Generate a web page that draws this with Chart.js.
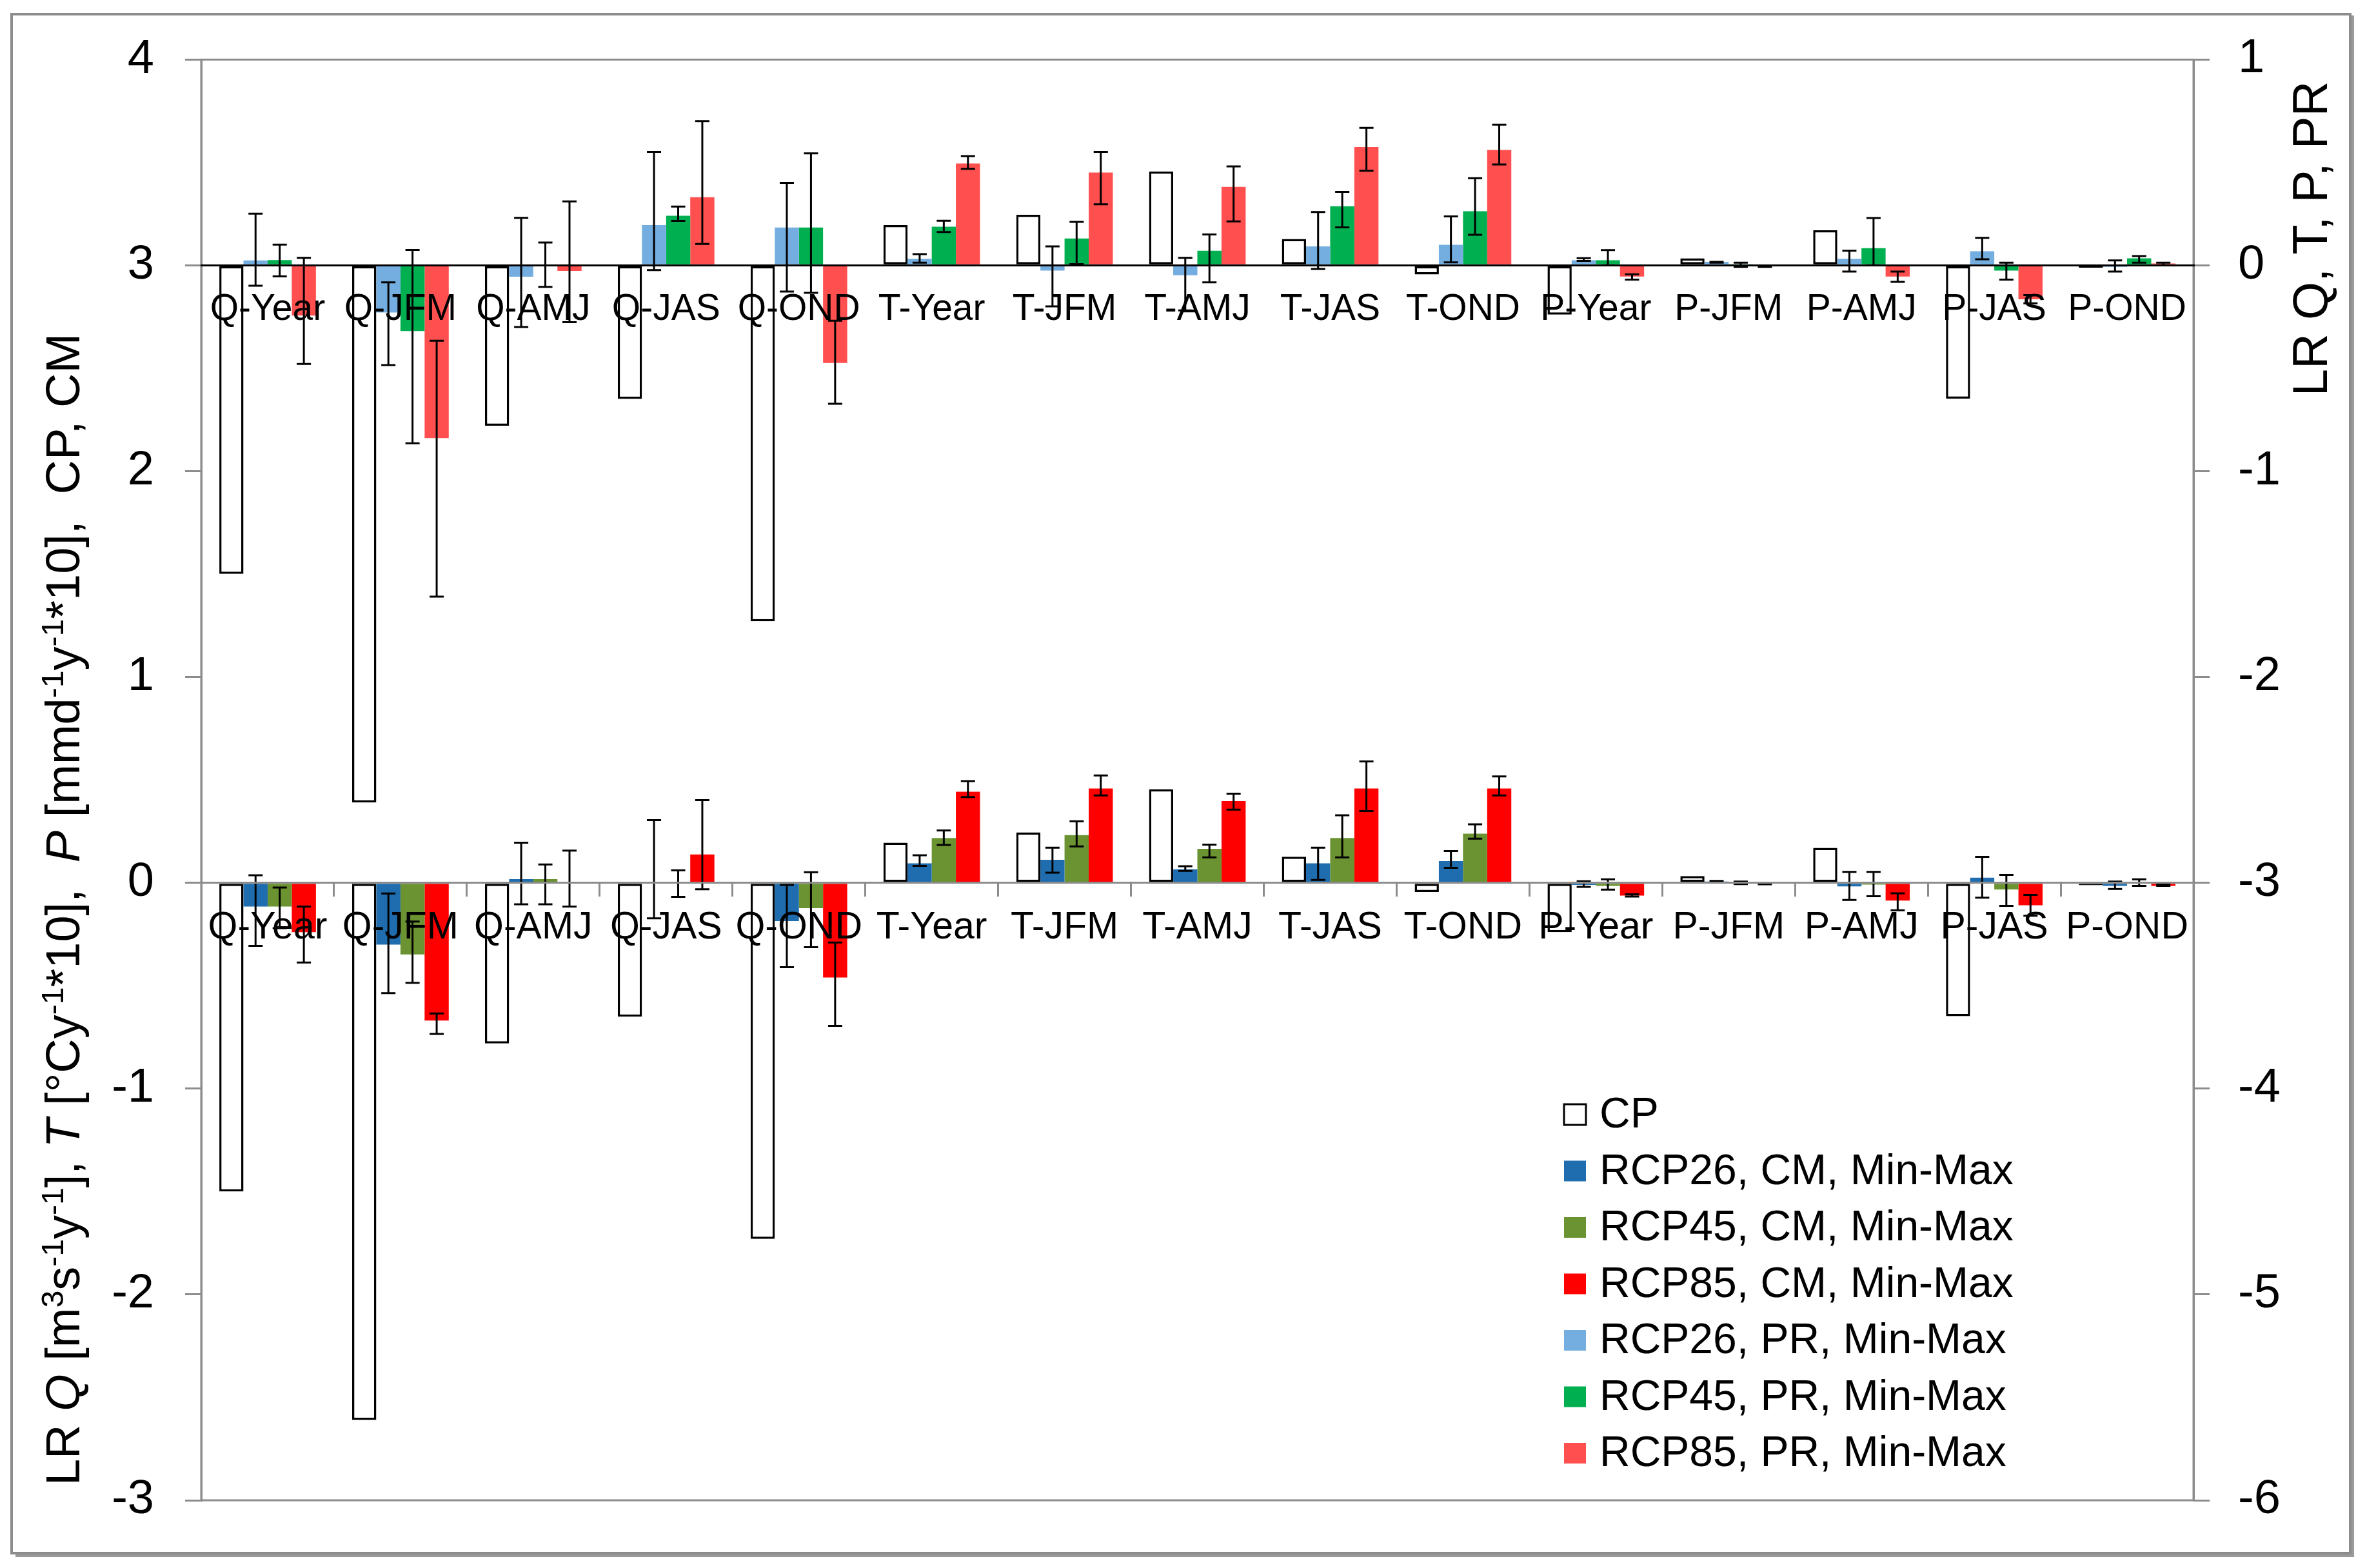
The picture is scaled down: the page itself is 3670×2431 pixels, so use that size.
<!DOCTYPE html>
<html lang="en">
<head>
<meta charset="UTF-8">
<title>LR Q, T, P</title>
<script src="https://cdn.jsdelivr.net/npm/chart.js"></script>
<style>
    * { margin: 0; padding: 0; }
    body { background: #ffffff; overflow: hidden; }
    .wrap { position: relative; width: 3670px; height: 2431px; }
    canvas { position: absolute; left: 0; top: 0; display: block; }
</style>
</head>
<body>
<div class="wrap">
    <canvas id="cmChart" width="3670" height="2431"></canvas>
    <canvas id="prChart" width="3670" height="2431"></canvas>
</div>
<script>
// ---- data ----
const categories = ['Q-Year', 'Q-JFM', 'Q-AMJ', 'Q-JAS', 'Q-OND',
                    'T-Year', 'T-JFM', 'T-AMJ', 'T-JAS', 'T-OND',
                    'P-Year', 'P-JFM', 'P-AMJ', 'P-JAS', 'P-OND'];

// CP (drawn on both axes)
const cp = [-1.5, -2.61, -0.78, -0.65, -1.73, 0.195, 0.245, 0.455, 0.127, -0.045, -0.24, 0.033, 0.17, -0.648, -0.012];

// CM series, left axis
const rcp26cm    = [-0.115, -0.30, 0.018, 0.003, -0.186, 0.095, 0.112, 0.066, 0.095, 0.106, -0.01, 0.006, -0.017, 0.025, -0.015];
const rcp26cmMin = [-0.306, -0.536, -0.104, -0.172, -0.41, 0.082, 0.049, 0.058, 0.014, 0.073, -0.02, 0.004, -0.083, -0.072, -0.03];
const rcp26cmMax = [0.037, -0.052, 0.195, 0.305, -0.01, 0.134, 0.171, 0.081, 0.171, 0.154, 0.008, 0.009, 0.053, 0.126, 0.006];

const rcp45cm    = [-0.115, -0.348, 0.018, -0.005, -0.123, 0.218, 0.232, 0.165, 0.218, 0.239, -0.015, 0.0, -0.009, -0.032, -0.005];
const rcp45cmMin = [-0.22, -0.486, -0.104, -0.068, -0.313, 0.184, 0.177, 0.124, 0.124, 0.215, -0.033, -0.006, -0.065, -0.112, -0.015];
const rcp45cmMax = [-0.023, -0.188, 0.089, 0.061, 0.052, 0.255, 0.299, 0.186, 0.328, 0.284, 0.017, 0.006, 0.053, 0.038, 0.017];

const rcp85cm    = [-0.24, -0.669, 0.0, 0.138, -0.46, 0.443, 0.458, 0.397, 0.458, 0.458, -0.062, -0.005, -0.086, -0.109, -0.015];
const rcp85cmMin = [-0.387, -0.734, -0.115, -0.031, -0.695, 0.417, 0.425, 0.356, 0.349, 0.425, -0.067, -0.007, -0.133, -0.16, -0.015];
const rcp85cmMax = [-0.115, -0.635, 0.157, 0.402, -0.29, 0.494, 0.522, 0.433, 0.59, 0.517, -0.056, -0.003, -0.051, -0.059, -0.006];

// PR series, right axis
const rcp26pr    = [0.023, -0.23, -0.056, 0.195, 0.183, 0.031, -0.026, -0.049, 0.091, 0.099, 0.024, 0.016, 0.031, 0.068, -0.008];
const rcp26prMin = [-0.10, -0.485, -0.30, -0.024, -0.128, 0.012, -0.2, -0.22, -0.018, 0.014, 0.021, 0.012, -0.031, 0.029, -0.031];
const rcp26prMax = [0.25, -0.083, 0.23, 0.55, 0.40, 0.054, 0.091, 0.036, 0.258, 0.237, 0.034, 0.016, 0.07, 0.133, 0.023];

const rcp45pr    = [0.025, -0.32, 0.0, 0.24, 0.183, 0.187, 0.13, 0.07, 0.286, 0.262, 0.024, 0.005, 0.083, -0.026, 0.033];
const rcp45prMin = [-0.054, -0.865, -0.105, 0.215, -0.134, 0.161, 0.005, -0.083, 0.184, 0.148, 0.0, -0.008, 0.0, -0.07, 0.012];
const rcp45prMax = [0.10, 0.074, 0.11, 0.285, 0.543, 0.216, 0.21, 0.149, 0.356, 0.423, 0.073, 0.012, 0.229, 0.012, 0.044];

const rcp85pr    = [-0.245, -0.84, -0.028, 0.33, -0.475, 0.494, 0.45, 0.38, 0.574, 0.56, -0.055, -0.005, -0.055, -0.166, 0.008];
const rcp85prMin = [-0.48, -1.61, -0.277, 0.103, -0.673, 0.468, 0.296, 0.213, 0.459, 0.489, -0.07, -0.008, -0.081, -0.185, 0.0];
const rcp85prMax = [0.036, -0.367, 0.31, 0.70, -0.27, 0.53, 0.55, 0.48, 0.667, 0.683, -0.044, -0.003, -0.031, -0.145, 0.012];

const legendNames = ['CP', 'RCP26, CM, Min-Max', 'RCP45, CM, Min-Max', 'RCP85, CM, Min-Max',
                     'RCP26, PR, Min-Max', 'RCP45, PR, Min-Max', 'RCP85, PR, Min-Max'];
const legendColors = ['#ffffff', '#1f6dae', '#6b9331', '#ff0000', '#74aee0', '#00b050', '#ff4f4f'];

const FONT = "'Liberation Sans', Arial, sans-serif";
const AXIS_GREY = '#8c8c8c';

function barSet(label, data, color, lo, hi) {
    return {
        label: label,
        data: data,
        categoryPercentage: 4 / 5.5,
        barPercentage: 1.0,
        backgroundColor: color,
        borderWidth: 0,
        errLow: lo,
        errHigh: hi
    };
}

function cpSet() {
    return {
        label: 'CP',
        data: cp,
        categoryPercentage: 4 / 5.5,
        barPercentage: 1.0,
        backgroundColor: '#ffffff',
        borderColor: '#000000',
        borderWidth: 3.5,
        borderSkipped: false
    };
}

// white page, outer frame and plot-area box
const framePlugin = {
    id: 'frame',
    beforeDraw(chart) {
        const ctx = chart.ctx;
        const a = chart.chartArea;
        ctx.save();
        ctx.fillStyle = '#ffffff';
        ctx.fillRect(0, 0, chart.width, chart.height);
        ctx.fillStyle = '#9a9a9a';
        ctx.fillRect(3642, 24, 8, 2390);
        ctx.fillRect(24, 2406, 3626, 8);
        ctx.strokeStyle = AXIS_GREY;
        ctx.lineWidth = 4;
        ctx.strokeRect(18, 22, 3626, 2386);
        ctx.lineWidth = 3;
        ctx.strokeRect(a.left, a.top, a.right - a.left, a.bottom - a.top);
        ctx.restore();
    }
};

// min-max whiskers from each dataset's errLow / errHigh
const errorBarPlugin = {
    id: 'errorBars',
    afterDatasetsDraw(chart) {
        const ctx = chart.ctx;
        const scale = chart.scales.y;
        ctx.save();
        ctx.strokeStyle = '#000000';
        ctx.lineWidth = 3;
        chart.data.datasets.forEach((ds, di) => {
            if (!ds.errLow) return;
            chart.getDatasetMeta(di).data.forEach((bar, i) => {
                const yLo = scale.getPixelForValue(ds.errLow[i]);
                const yHi = scale.getPixelForValue(ds.errHigh[i]);
                ctx.beginPath();
                ctx.moveTo(bar.x, yLo);
                ctx.lineTo(bar.x, yHi);
                ctx.moveTo(bar.x - 11, yLo);
                ctx.lineTo(bar.x + 11, yLo);
                ctx.moveTo(bar.x - 11, yHi);
                ctx.lineTo(bar.x + 11, yHi);
                ctx.stroke();
            });
        });
        ctx.restore();
    }
};

// rotated title made of normal / italic / superscript pieces
function drawRotatedTitle(ctx, parts, baseX, centerY, size) {
    const fontFor = (p, s) => (p.s === 'i' ? 'italic ' : '') + (p.s === 'sup' ? s * 0.65 : s) + 'px ' + FONT;
    const total = parts.reduce((w, p) => { ctx.font = fontFor(p, size); return w + ctx.measureText(p.t).width; }, 0);
    ctx.save();
    ctx.translate(baseX, centerY);
    ctx.rotate(-Math.PI / 2);
    ctx.fillStyle = '#000000';
    ctx.textBaseline = 'alphabetic';
    let x = -total / 2;
    parts.forEach(p => {
        ctx.font = fontFor(p, size);
        ctx.fillText(p.t, x, p.s === 'sup' ? -size * 0.34 : 0);
        x += ctx.measureText(p.t).width;
    });
    ctx.restore();
}

const leftTitle = [
    {t: 'LR ', s: 'n'}, {t: 'Q', s: 'i'}, {t: ' [m', s: 'n'}, {t: '3', s: 'sup'}, {t: 's', s: 'n'},
    {t: '-1', s: 'sup'}, {t: 'y', s: 'n'}, {t: '-1', s: 'sup'}, {t: '], ', s: 'n'}, {t: 'T', s: 'i'},
    {t: ' [°Cy', s: 'n'}, {t: '-1', s: 'sup'}, {t: '*10],  ', s: 'n'}, {t: 'P', s: 'i'},
    {t: ' [mmd', s: 'n'}, {t: '-1', s: 'sup'}, {t: 'y', s: 'n'}, {t: '-1', s: 'sup'},
    {t: '*10],  CP, CM', s: 'n'}
];

const titlesPlugin = {
    id: 'titles',
    afterDraw(chart) {
        const ctx = chart.ctx;
        drawRotatedTitle(ctx, leftTitle, 123, 1410, 74);
        drawRotatedTitle(ctx, [{t: 'LR Q, T, P, PR', s: 'n'}], 3608, 370, 76);
    }
};

const legendPlugin = {
    id: 'boxLegend',
    afterDraw(chart) {
        const ctx = chart.ctx;
        ctx.save();
        ctx.font = '66px ' + FONT;
        ctx.textBaseline = 'middle';
        legendNames.forEach((name, i) => {
            const y = 1728 + i * 87.5;
            ctx.fillStyle = legendColors[i];
            ctx.fillRect(2425, y - 16, 34, 32);
            if (i === 0) {
                ctx.strokeStyle = '#000000';
                ctx.lineWidth = 3;
                ctx.strokeRect(2425, y - 16, 34, 32);
            }
            ctx.fillStyle = '#000000';
            ctx.fillText(name, 2480, y + 2);
        });
        ctx.restore();
    }
};

// category axis sitting on the zero line; labels and line drawn above the bars
function categoryAxis(fontSize, padding, tickLength, borderColor) {
    return {
        type: 'category',
        position: { y: 0 },
        offset: true,
        grid: { offset: true, drawOnChartArea: false, drawTicks: tickLength > 0, tickLength: tickLength, color: AXIS_GREY, lineWidth: 3, z: 1 },
        border: { color: borderColor, width: 3, z: 1 },
        ticks: { font: { family: FONT, size: fontSize }, color: '#000000', padding: padding, autoSkip: false, maxRotation: 0, minRotation: 0, z: 1 }
    };
}

function valueAxis(side, min, max, width, padding) {
    return {
        position: side,
        min: min,
        max: max,
        ticks: { stepSize: 1, font: { family: FONT, size: 74 }, color: '#000000', padding: padding },
        grid: { drawOnChartArea: false, tickLength: 25, color: AXIS_GREY, lineWidth: 3 },
        border: { color: AXIS_GREY, width: 3 },
        afterFit(scale) { scale.width = width; }
    };
}

const baseOptions = {
    responsive: false,
    devicePixelRatio: 1,
    animation: false,
    plugins: {
        legend: { display: false },
        tooltip: { enabled: false }
    }
};

// primary chart: CP and CM on the left axis
new Chart(document.getElementById('cmChart'), {
    type: 'bar',
    data: {
        labels: categories,
        datasets: [
            cpSet(),
            barSet('RCP26, CM, Min-Max', rcp26cm, legendColors[1], rcp26cmMin, rcp26cmMax),
            barSet('RCP45, CM, Min-Max', rcp45cm, legendColors[2], rcp45cmMin, rcp45cmMax),
            barSet('RCP85, CM, Min-Max', rcp85cm, legendColors[3], rcp85cmMin, rcp85cmMax)
        ]
    },
    options: Object.assign({}, baseOptions, {
        layout: { padding: { left: 0, right: 269, top: 92, bottom: 105 } },
        scales: {
            x: categoryAxis(59, 15, 20, AXIS_GREY),
            y: valueAxis('left', -3, 4, 312, 48)
        }
    }),
    plugins: [framePlugin, errorBarPlugin, titlesPlugin, legendPlugin]
});

// secondary chart, laid over the first: CP and PR on the right axis
new Chart(document.getElementById('prChart'), {
    type: 'bar',
    data: {
        labels: categories,
        datasets: [
            cpSet(),
            barSet('RCP26, PR, Min-Max', rcp26pr, legendColors[4], rcp26prMin, rcp26prMax),
            barSet('RCP45, PR, Min-Max', rcp45pr, legendColors[5], rcp45prMin, rcp45prMax),
            barSet('RCP85, PR, Min-Max', rcp85pr, legendColors[6], rcp85prMin, rcp85prMax)
        ]
    },
    options: Object.assign({}, baseOptions, {
        layout: { padding: { left: 312, right: 0, top: 92, bottom: 105 } },
        scales: {
            x: categoryAxis(57, 35, 0, '#000000'),
            y: valueAxis('right', -6, 1, 269, 44)
        }
    }),
    plugins: [errorBarPlugin]
});
</script>
</body>
</html>
